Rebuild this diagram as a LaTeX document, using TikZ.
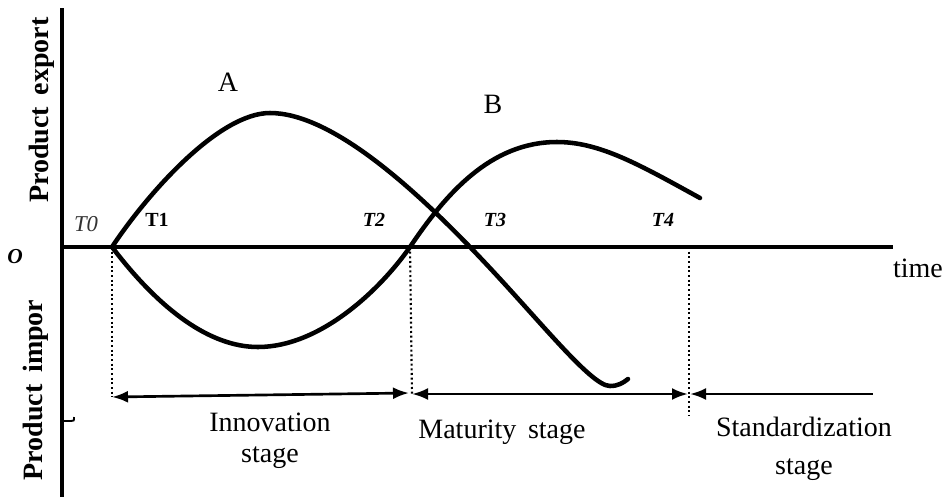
\documentclass[tikz,border=0pt]{standalone}
\usepackage{fontspec}
\setmainfont{Liberation Serif}
\usetikzlibrary{arrows.meta,positioning}

\begin{document}
\begin{tikzpicture}[x=0.75pt,y=-0.75pt,>={Latex[length=12pt,width=9pt]},
  axis/.style={line width=3.6pt},
  curve/.style={line width=3.4pt,line cap=round},
  guide/.style={line width=1.6pt,dash pattern=on 1.5pt off 2pt},
  span/.style={line width=2pt},
  lbl/.style={font=\fontsize{21}{25}\selectfont,inner sep=0pt,align=center},
  tick/.style={font=\fontsize{15}{17}\selectfont\bfseries\itshape,inner sep=0pt}]
  \useasboundingbox (0,0) rectangle (951,501);
  % axes
  \coordinate (O) at (62,247);
  \coordinate (Top) at (62,8);
  \coordinate (Bot) at (62,497);
  \coordinate (End) at (893,247);
  \draw[axis] (Top) -- (Bot);
  \draw[axis] (O) -- (End);
  \draw[line width=1.4pt] (64,421) -- (71,421) .. controls (74,421) .. (74,417);
  % time marks on the axis
  \coordinate (T0) at (112,247);
  \coordinate (T2) at (410,247);
  \coordinate (T4) at (689,247);
  % stage arrows
  \coordinate (I0) at (112,397);
  \coordinate (I1) at (409,393);
  \coordinate (M0) at (412,394);
  \coordinate (M1) at (688,394);
  \coordinate (S0) at (690,394);
  \coordinate (S1) at (873,394);
  \coordinate (T4b) at (689,416);
  \draw[guide] (T0) -- (I0);
  \draw[guide] (T2) -- (M0);
  \draw[guide] (T4) -- (T4b);
  \draw[span,<->] (I0) -- (I1);
  \draw[span,<->] (M0) -- (M1);
  \draw[span,<-] (S0) -- (S1);
  % curve A
  \draw[curve] (T0) .. controls (150,190) and (220,113) .. (270,113)
    .. controls (330,113) and (410,185) .. (470,247)
    .. controls (535,314) and (590,386) .. (610,386)
    .. controls (618,386) and (623,383) .. (628,379);
  % import curve and curve B
  \draw[curve] (T0) .. controls (160,310) and (210,347) .. (258,347)
    .. controls (320,347) and (380,290) .. (T2)
    .. controls (445,195) and (490,142) .. (557,142)
    .. controls (600,142) and (640,165) .. (700,198);
  % labels
  \node[lbl,font=\fontsize{21}{25}\selectfont\bfseries,rotate=90] (exp) at (42,110) {Product\, export};
  \node[lbl,font=\fontsize{21}{25}\selectfont\bfseries,rotate=90] (imp) at (36,390) {Product\, impor};
  \node[lbl] (A) at (228,82) {A};
  \node[lbl] (B) at (493,104) {B};
  \node[lbl] (time) at (918,268) {time};
  \node[tick,font=\fontsize{16}{18}\selectfont\bfseries\itshape] (o) at (15,257) {O};
  \node[tick,font=\fontsize{17}{19}\selectfont\itshape,text=black!80] (t0) at (86,224) {T0};
  \node[tick,font=\fontsize{15}{17}\selectfont\bfseries] (t1) at (157,220) {T1};
  \node[tick] (t2) at (374,220) {T2};
  \node[tick] (t3) at (495,220) {T3};
  \node[tick] (t4) at (663,220) {T4};
  \node[lbl] (inno) at (270,422) {Innovation};
  \node[lbl] (inno2) at (270,458) {stage};
  \node[lbl] (mat) at (502,432) {Maturity\, stage};
  \node[lbl] (std) at (804,427) {Standardization};
  \node[lbl] (std2) at (804,470) {stage};
\end{tikzpicture}
\end{document}
